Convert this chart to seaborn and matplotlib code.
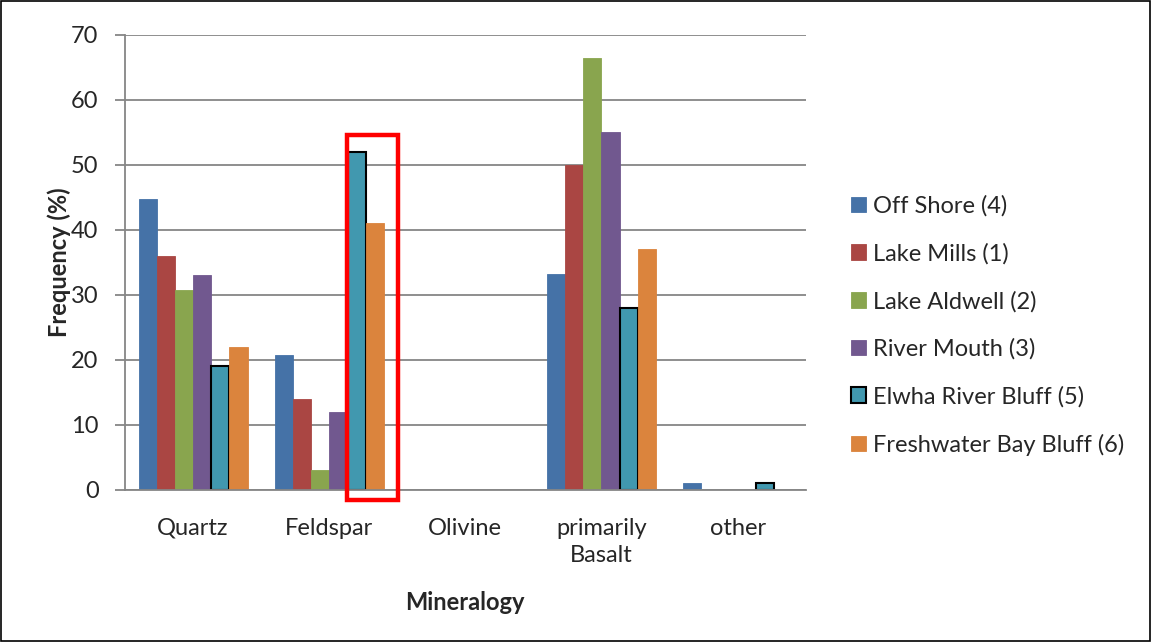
import matplotlib
matplotlib.use("Agg")
import matplotlib.pyplot as plt
import matplotlib.patches as mpatches
import seaborn as sns
import pandas as pd

# Data
minerals = ["Quartz", "Feldspar", "Olivine", "primarily\nBasalt", "other"]
sites = ["Off Shore (4)", "Lake Mills (1)", "Lake Aldwell (2)", "River Mouth (3)",
         "Elwha River Bluff (5)", "Freshwater Bay Bluff (6)"]
off_shore = [44.7, 20.7, 0, 33.2, 1]
lake_mills = [36, 14, 0, 50, 0]
lake_aldwell = [30.8, 3, 0, 66.4, 0]
river_mouth = [33, 12, 0, 55, 0]
elwha_bluff = [19, 52, 0, 28, 1]
freshwater_bluff = [22, 41, 0, 37, 0]

colors = ["#4572A7", "#AA4643", "#89A54E", "#71588F", "#4198AF", "#DB843D"]

series = [off_shore, lake_mills, lake_aldwell, river_mouth, elwha_bluff, freshwater_bluff]
rows = []
for site, vals in zip(sites, series):
    for m, v in zip(minerals, vals):
        rows.append({"Mineralogy": m, "Site": site, "Frequency": v})
df = pd.DataFrame(rows)

sns.set_style("white")
plt.rcParams['font.family'] = ['Lato', 'DejaVu Sans']
fs = 17

fig = plt.figure(figsize=(11.51, 6.42), dpi=100)
ax = fig.add_axes([0.1086, 0.2368, 0.5914, 0.7087])

sns.barplot(data=df, x="Mineralogy", y="Frequency", hue="Site", hue_order=sites,
            order=minerals, palette=colors, width=0.8, legend=False, ax=ax,
            saturation=1)

# edges: light same-colour edges, black edge for Elwha River Bluff
for cont, site, col in zip(ax.containers, sites, colors):
    for p in cont:
        if site == "Elwha River Bluff (5)":
            p.set_edgecolor("black")
            p.set_linewidth(1.5)
        else:
            p.set_edgecolor(col)
            p.set_linewidth(0.6)
        if p.get_height() == 0:
            p.set_linewidth(0)

ax.set_ylim(0, 70)
ax.set_xlim(-0.5, len(minerals) - 0.5)
ax.set_yticks(range(0, 71, 10))
ax.yaxis.grid(True, color="#868686", linewidth=1.3)
ax.set_axisbelow(True)
for s in ["top", "right"]:
    ax.spines[s].set_visible(False)
for s in ["left", "bottom"]:
    ax.spines[s].set_color("#868686")
    ax.spines[s].set_linewidth(1.3)

ax.set_xticks([i - 0.5 for i in range(len(minerals) + 1)], minor=True)
ax.tick_params(axis="x", which="major", length=0, pad=20, labelsize=fs)
ax.tick_params(axis="x", which="minor", length=7, width=1.3, color="#868686", direction="out")
ax.tick_params(axis="y", length=7, width=1.3, color="#868686", direction="out",
               left=True, pad=12, labelsize=fs)
for t in ax.get_xticklabels():
    t.set_linespacing(1.35)

ax.set_xlabel("Mineralogy", fontsize=fs, fontweight="bold", labelpad=18)
ax.set_ylabel("Frequency (%)", fontsize=fs, fontweight="bold", labelpad=0)

leg = ax.legend(handles=ax.containers, labels=sites, loc="center left",
                bbox_to_anchor=(1.035, 0.3615), frameon=False, fontsize=fs,
                handlelength=0.64, handleheight=0.64, handletextpad=0.3,
                labelspacing=1.11)

# red highlight box around the Feldspar bluff samples
ax.add_patch(mpatches.Rectangle((1.13, -1.5), 0.375, 56.1, fill=False,
                                edgecolor="#FF0000", linewidth=3.2, clip_on=False,
                                zorder=5))

# figure border
fig.patches.append(mpatches.Rectangle((0.001, 0.002), 0.998, 0.996, fill=False,
                                      edgecolor="black", linewidth=1.2,
                                      transform=fig.transFigure, figure=fig))

fig.savefig("out.png", dpi=100)
